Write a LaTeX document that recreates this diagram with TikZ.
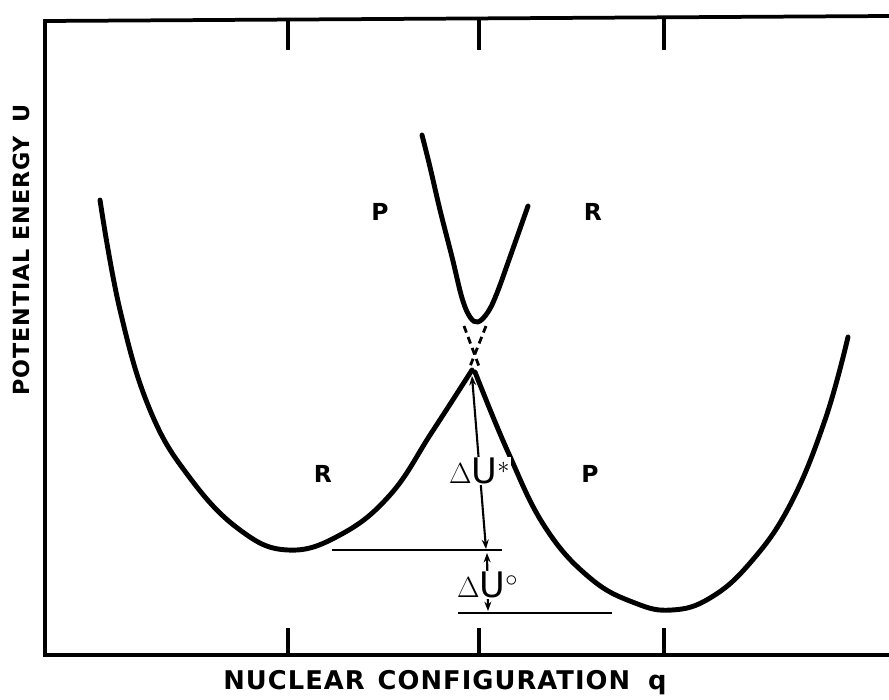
\documentclass[tikz,border=0pt]{standalone}
\usepackage{fontspec}
\setmainfont{DejaVu Sans}
\newfontfamily\lettering[LetterSpace=4]{DejaVu Sans}
\usetikzlibrary{arrows.meta}

\begin{document}
\begin{tikzpicture}[
  x=0.03cm, y=-0.03cm,
  curve/.style={line width=4.2pt, line cap=round, line join=round},
  frame/.style={line width=3.2pt, line join=miter},
  tick/.style={line width=2.6pt},
  level/.style={line width=1.6pt},
  dim/.style={line width=1.8pt, {Stealth[length=8pt,width=6pt]}-{Stealth[length=8pt,width=6pt]}},
  lbl/.style={font=\fontsize{20}{24}\selectfont\bfseries, inner sep=0pt},
  axislbl/.style={font=\lettering\fontsize{22}{26}\selectfont\bfseries, inner sep=0pt},
  delta/.style={font=\fontsize{30}{34}\selectfont, fill=white, inner sep=1pt}
]
  \useasboundingbox (0,0) rectangle (889,700);

  % frame and ticks
  \draw[frame] (889,16) -- (45,21) -- (45,655) -- (889,655);
  \foreach \x in {288,479,664}{
    \draw[tick] (\x,19) -- (\x,50);
    \draw[tick] (\x,655) -- (\x,628);
  }

  % axis labels
  \node[axislbl, rotate=90, font=\lettering\fontsize{19}{22}\selectfont\bfseries] (yaxis) at (21,250)
    {POTENTIAL ENERGY\hspace{0.6em}U};
  \node[axislbl] (xaxis) at (445,683) {NUCLEAR\hspace{0.5em}CONFIGURATION\hspace{0.7em}q};

  % lower surfaces
  \draw[curve] plot[smooth, tension=0.7] coordinates {
    (100,200) (120,310) (150,410) (190,478) (240,530) (288,550)
    (340,535) (390,495) (432,432) (472,370)};
  \draw[curve] plot[smooth, tension=0.7] coordinates {
    (475,372) (508,452) (545,527) (590,578) (635,603) (672,610)
    (710,598) (750,563) (790,505) (825,420) (848,337)};

  % upper surface
  \draw[curve] plot[smooth, tension=0.6] coordinates {
    (422,135) (430,167) (440,210) (452,257) (462,298) (470,317)
    (478,322) (488,312) (497,293) (510,257) (528,206)};

  % crossing of the diabatic curves
  \draw[line width=2.4pt, dash pattern=on 6pt off 4pt] (464,326) -- (480,369);
  \draw[line width=2.4pt, dash pattern=on 6pt off 4pt] (486,326) -- (469,369);

  % energy levels
  \coordinate (peak) at (472,376);
  \coordinate (rlevel) at (486,549);
  \coordinate (rlevel2) at (487,553);
  \coordinate (plevel) at (488,611);
  \draw[level] (332,550) -- (502,550);
  \draw[level] (458,613) -- (612,613);
  \draw[dim] (peak) -- node[delta, pos=0.55] (dstar) {$\Delta$U$^{\ast}$} (rlevel);
  \draw[dim] (rlevel2) -- node[delta, pos=0.55] (dzero) {$\Delta$U$^{\circ}$} (plevel);

  % curve labels
  \node[lbl] (pup) at (380,212) {P};
  \node[lbl] (rup) at (593,212) {R};
  \node[lbl] (rlow) at (323,474) {R};
  \node[lbl] (plow) at (590,474) {P};
\end{tikzpicture}
\end{document}
